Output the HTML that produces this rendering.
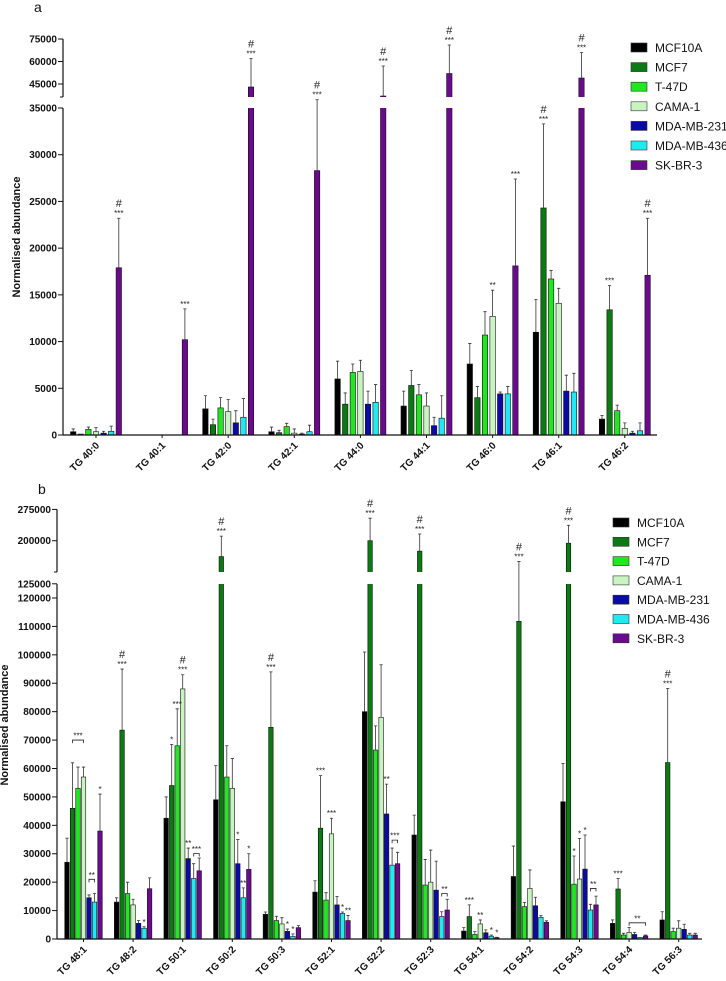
<!DOCTYPE html>
<html><head><meta charset="utf-8"><style>
html,body{margin:0;padding:0;background:#fff;}
svg{display:block;font-family:"Liberation Sans",Arial,sans-serif;}
.tk{font-size:10px;font-weight:bold;fill:#111;}
.gl{font-size:10px;font-weight:bold;fill:#111;}
.yt{font-size:11px;font-weight:bold;fill:#111;}
.lg{font-size:12px;fill:#111;}
.an{font-size:8px;fill:#222;}
.hs{font-size:11px;fill:#222;}
</style></head><body>
<svg id="chart" width="726" height="981" viewBox="0 0 726 981" xmlns="http://www.w3.org/2000/svg"></svg>
<script>
const seriesNames = ["MCF10A","MCF7","T-47D","CAMA-1","MDA-MB-231","MDA-MB-436","SK-BR-3"];
const seriesColors = ["#000000","#0b7a12","#22e622","#c9f4c2","#0a0aa6","#22e8f2","#6a0a8c"];

const categoriesA = ["TG 40:0","TG 40:1","TG 42:0","TG 42:1","TG 44:0","TG 44:1","TG 46:0","TG 46:1","TG 46:2"];
const valuesA = [
 [350,100,600,350,200,400,17900],
 [0,0,0,0,0,0,10200],
 [2800,1100,2900,2500,1300,1900,43000],
 [350,250,900,200,100,350,28300],
 [6000,3300,6700,6800,3300,3500,37000],
 [3100,5300,4300,3100,1000,1800,52000],
 [7600,4000,10700,12700,4400,4400,18100],
 [11000,24300,16700,14100,4700,4600,49000],
 [1700,13400,2600,700,200,450,17100]
];
const errTopA = [
 [650,100,850,800,400,950,23200],
 [0,0,0,0,0,0,13500],
 [4200,1700,4000,3800,2600,3900,62000],
 [850,500,1250,650,200,1050,36000],
 [7900,4500,7600,8000,4700,5400,57000],
 [4700,6900,5400,4500,1900,4200,71000],
 [9800,5200,13200,15500,4600,5200,27400],
 [14500,33300,17600,15700,6400,6600,66000],
 [2100,16000,3200,1300,400,1300,23200]
];
const annotA = [[0,6,"***","#"],[1,6,"***",""],[2,6,"***","#"],[3,6,"***","#"],[4,6,"***","#"],[5,6,"***","#"],[6,3,"**",""],[6,6,"***",""],[7,1,"***","#"],[7,6,"***","#"],[8,1,"***",""],[8,6,"***","#"]];
const ticksALow = [0,5000,10000,15000,20000,25000,30000,35000];
const ticksAHigh = [45000,60000,75000];

const categoriesB = ["TG 48:1","TG 48:2","TG 50:1","TG 50:2","TG 50:3","TG 52:1","TG 52:2","TG 52:3","TG 54:1","TG 54:2","TG 54:3","TG 54:4","TG 56:3"];
const valuesB = [
 [27000,46000,53000,57000,14500,13000,38000],
 [13000,73500,16000,12000,5500,3800,17700],
 [42500,54000,68000,88000,28300,21300,24000],
 [49000,162000,57000,53000,26500,14500,24500],
 [8700,74500,6500,5300,2700,900,4000],
 [16500,39000,13700,37000,12000,9000,6500],
 [80000,200000,66500,78000,44000,26000,26500],
 [36600,175000,19000,20000,17200,7900,10200],
 [2800,7900,1600,5300,2200,1000,500],
 [22000,111800,11400,17800,11700,7600,5900],
 [48300,194000,19300,21100,24600,10200,12000],
 [5500,17600,1400,2300,1600,600,1100],
 [6700,62100,2600,3800,3400,1400,1400]
];
const errTopB = [
 [35500,62000,60500,60500,15500,16000,51000],
 [14500,95000,20000,14000,6500,4300,21500],
 [50000,68500,81000,93000,32000,26500,28500],
 [61000,211000,68000,63500,35000,18000,30000],
 [9500,94000,8000,7500,3500,1800,4700],
 [20500,57500,16300,42500,15000,9500,8300],
 [101000,254000,75000,96500,54500,32000,30500],
 [43600,216000,28000,31300,27400,9600,14000],
 [4000,12000,2600,6700,3200,1400,600],
 [32700,150000,12900,24300,14700,8200,6400],
 [61800,237000,29200,35400,36600,12200,15100],
 [6700,21300,2000,4100,2300,600,1400],
 [9600,88200,3800,6400,5200,2000,2000]
];
const annotB = [[0,6,"*",""],[1,1,"***","#"],[1,5,"*",""],[2,1,"*",""],[2,2,"***",""],[2,3,"***","#"],[2,4,"**",""],
 [3,1,"***","#"],[3,4,"*",""],[3,5,"**",""],[3,6,"*",""],[4,1,"***","#"],[4,4,"*",""],[4,5,"*",""],
 [5,1,"***",""],[5,3,"***",""],[5,5,"*",""],[5,6,"**",""],[6,1,"***","#"],[6,4,"**",""],[7,1,"***","#"],
 [8,1,"***",""],[8,3,"**",""],[8,5,"*",""],[8,6,"*",""],[9,1,"***","#"],[10,1,"***","#"],[10,2,"*",""],[10,3,"*",""],[10,4,"*",""],
 [11,1,"***",""],[12,1,"***","#"]];
// brackets: group, fromSeries, toSeries, level value, label
const bracketsB = [[0,1,3,70000,"***"],[0,4,5,21000,"**"],[2,5,6,30100,"***"],[6,5,6,34800,"***"],[7,5,6,16000,"**"],[10,5,6,17800,"**"],[11,3,6,5700,"**"]];
const ticksBLow = [0,10000,20000,30000,40000,50000,60000,70000,80000,90000,100000,110000,120000];
const ticksBHigh = [125000,200000,275000];

const svg = document.getElementById('chart');
const NS = "http://www.w3.org/2000/svg";
function mk(tag, attrs, parent){const e=document.createElementNS(NS,tag);for(const k in attrs)e.setAttribute(k,attrs[k]);(parent||svg).appendChild(e);return e;}

function drawPanel(cfg){
  const g = mk('g',{});
  
  
  const y = cfg.y;
  // letter
  const lt = mk('text',{x:cfg.letterX,y:cfg.letterY,'font-size':14,fill:'#111'},g); lt.textContent=cfg.letter;
  
  
  // bars
  const barW = cfg.barW;
  cfg.cats.forEach((c,gi)=>{
    const cx = cfg.x0 + gi*cfg.gs;
    cfg.vals[gi].forEach((v,si)=>{
      if(v<=0) return;
      const bx = cx + (si-3)*cfg.bs - barW/2;
      const top = y(v);
      const r = mk('rect',{x:bx,y:top,width:barW,height:cfg.base-top,fill:seriesColors[si],stroke:'#111','stroke-width':0.6},g);
      
      
      if(v>cfg.breakV){ mk('rect',{x:bx-1,y:cfg.gapTop,width:barW+2,height:cfg.gapBot-cfg.gapTop,fill:'#fff'},g); }
      const e = cfg.errs[gi][si];
      if(e>v){
        const ex = bx+barW/2, ey=y(e);
        const l = mk('path',{d:`M${ex},${top}V${ey}M${ex-1.6},${ey}H${ex+1.6}`,stroke:'#333','stroke-width':0.8,fill:'none'},g);
        
        
      }
    });
    // x tick + label
    mk('line',{x1:cx,x2:cx,y1:cfg.base,y2:cfg.base+3,stroke:'#111','stroke-width':1},g);
    const tx = cx+4, ty = cfg.base+11;
    const t = mk('text',{x:tx,y:ty,class:'gl','text-anchor':'end',transform:`rotate(-45 ${tx} ${ty})`},g);
    t.textContent = c;
    
    
  });
  // annotations
  cfg.annot.forEach(a=>{
    const [gi,si,s,h]=a;
    const cx = cfg.x0 + gi*cfg.gs + (si-3)*cfg.bs;
    const ey = y(Math.max(cfg.errs[gi][si],cfg.vals[gi][si]));
    const t = mk('text',{x:cx,y:ey-2,class:'an','text-anchor':'middle'},g); t.textContent=s;
    
    
    if(h){ const t2 = mk('text',{x:cx,y:ey-11,class:'hs','text-anchor':'middle'},g); t2.textContent=h;
      
       }
  });
  (cfg.brackets||[]).forEach(b=>{
    const [gi,s1,s2,lv,lab]=b;
    const x1 = cfg.x0+gi*cfg.gs+(s1-3)*cfg.bs, x2 = cfg.x0+gi*cfg.gs+(s2-3)*cfg.bs, by=y(lv);
    const p = mk('path',{d:`M${x1},${by+3}V${by}H${x2}V${by+3}`,stroke:'#222','stroke-width':0.8,fill:'none'},g);
    
    
    const t = mk('text',{x:(x1+x2)/2,y:by-1.5,class:'an','text-anchor':'middle'},g); t.textContent=lab;
    
    
  });
  // axes
  const ax = cfg.axisX;
  mk('line',{x1:ax,x2:cfg.axisEnd,y1:cfg.base,y2:cfg.base,stroke:'#111','stroke-width':1.2},g);
  mk('line',{x1:ax,x2:ax,y1:cfg.base,y2:cfg.gapBot,stroke:'#111','stroke-width':1.2},g);
  mk('line',{x1:ax,x2:ax,y1:cfg.gapTop,y2:y(cfg.ticksHigh[cfg.ticksHigh.length-1]),stroke:'#111','stroke-width':1.2},g);
  mk('line',{x1:ax-3,x2:ax,y1:cfg.gapTop,y2:cfg.gapTop,stroke:'#111','stroke-width':1},g);
  cfg.ticksLow.concat(cfg.ticksHigh).forEach(tv=>{
    const ty = y(tv);
    mk('line',{x1:ax-5,x2:ax,y1:ty,y2:ty,stroke:'#111','stroke-width':1},g);
    const t = mk('text',{x:ax-6,y:ty+3.5,class:'tk','text-anchor':'end'},g); t.textContent=tv;
    
    
  });
  const yt = mk('text',{x:cfg.ytX,y:cfg.ytY,class:'yt','text-anchor':'middle',transform:`rotate(-90 ${cfg.ytX} ${cfg.ytY})`},g);
  yt.textContent='Normalised abundance';
  
  
  // legend
  seriesNames.forEach((n,i)=>{
    const ly = cfg.legY + i*cfg.legDy;
    const sw = mk('rect',{x:cfg.legX,y:ly-5,width:16,height:9,fill:seriesColors[i],stroke:'#333','stroke-width':0.6},g);
    
    
    const t = mk('text',{x:cfg.legX+24,y:ly+4,class:'lg'},g); t.textContent=n;
    
    
  });
}

function yA(v){ if(v<=35000) return 435 - v*327/35000; if(v<36333) return 108-(v-35000)/1333*11; return 84-(v-45000)*22.5/15000; }
function yB(v){ if(v<=125000) return 939 - v*0.0028417; return 572-(v-125000)*31.3/75000; }

drawPanel({name:'panel-a',letter:'a',letterX:34,letterY:12,y:yA,base:435,cats:categoriesA,vals:valuesA,errs:errTopA,annot:annotA,
  x0:96,gs:66.1,bs:7.6,barW:5.4,breakV:35000,gapTop:97,gapBot:108,axisX:63,axisEnd:657,ticksLow:ticksALow,ticksHigh:ticksAHigh,
  ytX:20,ytY:237,legX:631,legY:48,legDy:19.6});
drawPanel({name:'panel-b',letter:'b',letterX:38,letterY:494,y:yB,base:939,cats:categoriesB,vals:valuesB,errs:errTopB,annot:annotB,brackets:bracketsB,
  x0:83.5,gs:49.6,bs:5.5,barW:4.5,breakV:125000,gapTop:572,gapBot:584,axisX:57,axisEnd:702,ticksLow:ticksBLow,ticksHigh:ticksBHigh,
  ytX:8,ytY:725,legX:613,legY:523,legDy:19.3});
</script>
</body></html>
